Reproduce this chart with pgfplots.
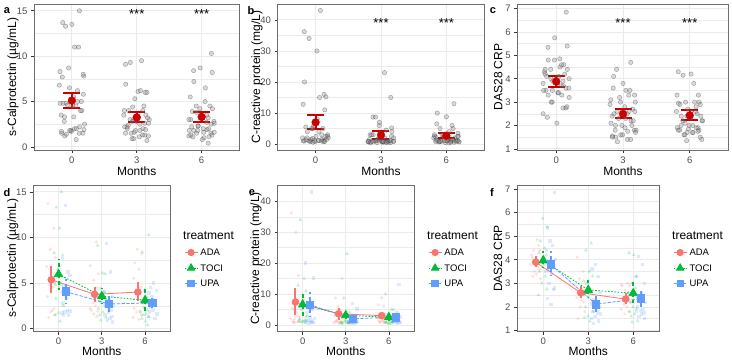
\documentclass[border=0pt]{standalone}
\usepackage{pgfplots}
\pgfplotsset{compat=1.18}
\usepackage{pgfplotstable}
\usepackage{fontspec}
\setmainfont{Liberation Sans}
\definecolor{cA}{HTML}{F8766D}
\definecolor{cT}{HTML}{00BA38}
\definecolor{cU}{HTML}{619CFF}
\definecolor{topred}{HTML}{CD0000}
\definecolor{gridc}{HTML}{EBEBEB}
\definecolor{borderc}{HTML}{6E6E6E}
\definecolor{tickc}{HTML}{333333}
\definecolor{tlabc}{HTML}{4D4D4D}

% ---------------- data: t = month, j = jitter offset, y = value ----------------
\pgfplotstableread[row sep=\\]{t j y\\
0 -0.42 13.7\\0 0.31 11.0\\0 -0.15 8.7\\0 0.55 7.8\\0 -0.58 6.8\\0 0.08 5.5\\0 0.44 5.0\\0 -0.27 4.8\\0 0.19 4.5\\0 -0.49 3.5\\0 0.36 2.2\\0 -0.05 1.8\\0 0.51 1.5\\0 -0.33 1.2\\0 0.12 2.0\\
3 0.22 9.5\\3 -0.51 6.9\\3 0.47 6.0\\3 -0.09 5.3\\3 0.33 4.5\\3 -0.38 4.0\\3 0.02 3.3\\3 0.58 3.0\\3 -0.21 2.8\\3 0.14 2.5\\3 -0.56 2.2\\3 0.41 1.9\\3 -0.12 1.6\\3 0.27 1.3\\3 -0.44 2.0\\
6 -0.07 8.7\\6 0.49 8.2\\6 -0.36 7.2\\6 0.17 6.5\\6 -0.53 5.5\\6 0.38 4.5\\6 -0.24 3.8\\6 0.05 3.2\\6 0.57 2.8\\6 -0.46 2.2\\6 0.25 1.9\\6 -0.18 1.8\\6 0.43 1.5\\6 -0.59 1.2\\6 0.11 1.0\\
}\calADA
\pgfplotstableread[row sep=\\]{t j y\\
0 0.35 15.0\\0 -0.29 13.3\\0 0.13 11.0\\0 -0.55 8.3\\0 0.52 8.0\\0 -0.11 6.5\\0 0.27 5.0\\0 -0.41 4.8\\0 0.04 4.5\\0 0.46 4.0\\0 -0.34 3.3\\0 0.59 2.5\\0 -0.02 1.7\\0 -0.47 1.5\\0 0.2 0.8\\
3 -0.52 9.1\\3 0.06 6.1\\3 0.39 6.0\\3 -0.19 4.4\\3 0.28 4.0\\3 -0.6 3.5\\3 0.5 3.2\\3 -0.31 3.0\\3 -0.03 2.8\\3 0.37 2.6\\3 -0.45 2.2\\3 0.15 1.8\\3 -0.26 1.5\\3 0.54 1.2\\3 -0.14 0.9\\
6 0.45 10.3\\6 -0.37 8.4\\6 -0.08 4.2\\6 0.24 3.5\\6 -0.5 3.0\\6 0.58 2.6\\6 -0.16 2.3\\6 0.32 2.0\\6 -0.57 1.8\\6 0.1 1.6\\6 -0.23 1.5\\6 0.48 1.3\\6 -0.4 1.1\\6 0.03 0.8\\6 0.3 0.4\\
}\calTOCI
\pgfplotstableread[row sep=\\]{t j y\\
0 0.0 13.5\\0 -0.44 7.7\\0 0.26 6.2\\0 0.53 5.8\\0 -0.2 4.6\\0 -0.54 4.8\\0 0.4 4.0\\0 0.09 3.3\\0 -0.35 2.8\\0 0.21 2.0\\0 0.56 1.9\\0 -0.1 1.8\\0 -0.48 1.7\\0 0.34 1.5\\0 -0.25 1.4\\
3 -0.3 9.3\\3 0.18 6.2\\3 -0.57 4.0\\3 0.42 3.5\\3 0.07 3.2\\3 -0.13 3.0\\3 0.55 2.6\\3 -0.39 2.4\\3 0.29 2.0\\3 -0.06 1.8\\3 -0.52 1.5\\3 0.37 1.3\\3 0.12 1.1\\3 -0.22 0.9\\3 0.47 0.7\\
6 0.16 5.0\\6 -0.25 4.5\\6 0.5 4.2\\6 -0.43 3.9\\6 -0.01 3.5\\6 0.3 3.2\\6 -0.59 3.0\\6 0.23 2.7\\6 0.44 2.5\\6 -0.17 2.3\\6 0.07 2.0\\6 -0.36 1.8\\6 0.58 1.6\\6 -0.5 1.3\\6 0.34 1.1\\
}\calUPA
\pgfplotstableread[row sep=\\]{t j y\\
0 -0.52 36.2\\0 0.06 30.0\\0 0.39 16.0\\0 -0.19 5.0\\0 0.28 3.0\\0 -0.6 2.0\\0 0.5 1.5\\0 -0.31 1.0\\0 -0.03 0.8\\0 0.37 1.2\\0 -0.45 5.5\\0 0.15 4.0\\0 -0.26 0.9\\0 0.54 2.5\\0 -0.14 1.8\\
3 0.45 15.0\\3 -0.37 8.7\\3 -0.08 6.0\\3 0.24 4.5\\3 -0.5 3.0\\3 0.58 2.0\\3 -0.16 1.5\\3 0.32 1.0\\3 -0.57 0.8\\3 0.1 0.6\\3 -0.23 1.2\\3 0.48 2.5\\3 -0.4 1.0\\3 0.03 0.7\\3 0.3 0.9\\
6 0.0 8.8\\6 -0.44 6.5\\6 0.26 6.0\\6 0.53 3.5\\6 -0.2 3.0\\6 -0.54 2.5\\6 0.4 2.0\\6 0.09 1.5\\6 -0.35 1.2\\6 0.21 1.0\\6 0.56 0.9\\6 -0.1 1.1\\6 -0.48 2.2\\6 0.34 1.0\\6 -0.25 0.8\\
}\crpADA
\pgfplotstableread[row sep=\\]{t j y\\
0 -0.3 34.0\\0 0.18 15.0\\0 -0.57 12.8\\0 0.42 11.0\\0 0.07 8.0\\0 -0.13 5.0\\0 0.55 3.0\\0 -0.39 2.0\\0 0.29 1.5\\0 -0.06 1.2\\0 -0.52 1.0\\0 0.37 0.8\\0 0.12 1.1\\0 -0.22 0.9\\0 0.47 2.5\\
3 0.16 23.0\\3 -0.25 8.7\\3 0.5 4.0\\3 -0.43 3.0\\3 -0.01 1.5\\3 0.3 1.0\\3 -0.59 0.8\\3 0.23 0.6\\3 0.44 0.5\\3 -0.17 1.2\\3 0.07 0.9\\3 -0.36 0.7\\3 0.58 1.0\\3 -0.5 0.4\\3 0.34 0.6\\
6 -0.42 10.0\\6 0.31 5.0\\6 -0.15 3.0\\6 0.55 2.5\\6 -0.58 2.0\\6 0.08 1.5\\6 0.44 1.2\\6 -0.27 1.0\\6 0.19 0.9\\6 -0.49 0.8\\6 0.36 0.6\\6 -0.05 0.5\\6 0.51 1.1\\6 -0.33 0.7\\6 0.12 0.4\\
}\crpTOCI
\pgfplotstableread[row sep=\\]{t j y\\
0 0.22 43.0\\0 -0.51 20.0\\0 0.47 15.2\\0 -0.09 6.0\\0 0.33 5.0\\0 -0.38 4.0\\0 0.02 2.5\\0 0.58 2.0\\0 -0.21 1.5\\0 0.14 1.2\\0 -0.56 1.0\\0 0.41 0.8\\0 -0.12 0.6\\0 0.27 1.0\\0 -0.44 1.4\\
3 -0.07 7.0\\3 0.49 5.2\\3 -0.36 3.0\\3 0.17 2.0\\3 -0.53 1.5\\3 0.38 1.2\\3 -0.24 1.0\\3 0.05 0.9\\3 0.57 0.8\\3 -0.46 0.7\\3 0.25 0.6\\3 -0.18 0.5\\3 0.43 1.1\\3 -0.59 0.9\\3 0.11 0.8\\
6 0.35 13.0\\6 -0.29 5.0\\6 0.13 4.0\\6 -0.55 3.0\\6 0.52 2.5\\6 -0.11 2.0\\6 0.27 1.5\\6 -0.41 1.2\\6 0.04 1.0\\6 0.46 0.9\\6 -0.34 0.8\\6 0.59 0.7\\6 -0.02 1.1\\6 -0.47 1.3\\6 0.2 0.6\\
}\crpUPA
\pgfplotstableread[row sep=\\]{t j y\\
0 0.16 4.85\\0 -0.25 4.4\\0 0.5 4.4\\0 -0.43 4.1\\0 -0.01 4.0\\0 0.3 3.9\\0 -0.59 3.8\\0 0.23 3.7\\0 0.44 3.6\\0 -0.17 3.5\\0 0.07 3.4\\0 -0.36 3.3\\0 0.58 3.2\\0 -0.5 4.2\\0 0.34 4.6\\
3 -0.42 4.1\\3 0.31 3.5\\3 -0.15 3.2\\3 0.55 3.0\\3 -0.58 2.9\\3 0.08 2.8\\3 0.44 2.7\\3 -0.27 2.6\\3 0.19 2.5\\3 -0.49 2.4\\3 0.36 2.2\\3 -0.05 2.0\\3 0.51 1.8\\3 -0.33 1.5\\3 0.12 2.3\\
6 0.22 3.0\\6 -0.51 2.95\\6 0.47 2.9\\6 -0.09 2.7\\6 0.33 2.5\\6 -0.38 2.4\\6 0.02 2.3\\6 0.58 2.2\\6 -0.21 2.1\\6 0.14 2.0\\6 -0.56 1.9\\6 0.41 1.8\\6 -0.12 1.7\\6 0.27 2.6\\6 -0.44 2.9\\
}\dasADA
\pgfplotstableread[row sep=\\]{t j y\\
0 -0.07 5.75\\0 0.49 5.4\\0 -0.36 4.8\\0 0.17 4.5\\0 -0.53 4.3\\0 0.38 4.2\\0 -0.24 4.0\\0 0.05 3.8\\0 0.57 3.6\\0 -0.46 3.5\\0 0.25 3.3\\0 -0.18 3.0\\0 0.43 2.75\\0 -0.59 2.5\\0 0.11 4.1\\
3 0.35 4.7\\3 -0.29 4.4\\3 0.13 3.5\\3 -0.55 3.1\\3 0.52 3.3\\3 -0.11 3.0\\3 0.27 2.6\\3 -0.41 2.5\\3 0.04 2.4\\3 0.46 2.2\\3 -0.34 2.0\\3 0.59 1.8\\3 -0.02 1.6\\3 -0.47 1.55\\3 0.2 1.4\\
6 -0.52 4.3\\6 0.06 4.2\\6 0.39 3.3\\6 -0.19 3.0\\6 0.28 2.8\\6 -0.6 2.6\\6 0.5 2.4\\6 -0.31 2.2\\6 -0.03 2.0\\6 0.37 1.9\\6 -0.45 1.8\\6 0.15 1.7\\6 -0.26 1.6\\6 0.54 1.4\\6 -0.14 1.35\\
}\dasTOCI
\pgfplotstableread[row sep=\\]{t j y\\
0 0.45 6.85\\0 -0.37 5.35\\0 -0.08 4.8\\0 0.24 4.6\\0 -0.5 4.4\\0 0.58 4.0\\0 -0.16 3.9\\0 0.32 3.7\\0 -0.57 3.5\\0 0.1 3.4\\0 -0.23 3.0\\0 0.48 2.8\\0 -0.4 2.35\\0 0.03 2.1\\0 0.3 2.75\\
3 0.0 3.8\\3 -0.44 3.6\\3 0.26 3.3\\3 0.53 2.6\\3 -0.2 2.3\\3 -0.54 2.1\\3 0.4 2.0\\3 0.09 1.9\\3 -0.35 1.8\\3 0.21 1.75\\3 0.56 1.7\\3 -0.1 1.6\\3 -0.48 1.5\\3 0.34 1.4\\3 -0.25 1.3\\
6 -0.3 4.15\\6 0.18 3.8\\6 -0.57 3.3\\6 0.42 3.0\\6 0.07 2.6\\6 -0.13 2.4\\6 0.55 2.2\\6 -0.39 2.0\\6 0.29 1.9\\6 -0.06 1.85\\6 -0.52 1.8\\6 0.37 1.75\\6 0.12 1.7\\6 -0.22 1.6\\6 0.47 1.5\\
}\dasUPA
% means with 95% CI: t m lo hi
\pgfplotstableread[row sep=\\]{t m lo hi\\0 5.1 4.3 5.95\\3 3.25 2.76 3.82\\6 3.3 2.78 3.82\\}\calMean
\pgfplotstableread[row sep=\\]{t m lo hi\\0 7.0 4.9 9.4\\3 2.9 1.8 4.1\\6 2.7 1.95 3.5\\}\crpMean
\pgfplotstableread[row sep=\\]{t m lo hi\\0 3.88 3.65 4.1\\3 2.5 2.3 2.7\\6 2.43 2.25 2.65\\}\dasMean
\pgfplotstableread[row sep=\\]{t m lo hi\\0 5.35 3.9 6.85\\3 3.75 2.9 4.6\\6 4.0 3.0 5.05\\}\calMA
\pgfplotstableread[row sep=\\]{t m lo hi\\0 5.95 4.2 7.6\\3 3.55 2.7 4.45\\6 3.1 1.9 4.3\\}\calMT
\pgfplotstableread[row sep=\\]{t m lo hi\\0 4.05 2.7 5.45\\3 2.7 1.75 3.6\\6 2.8 2.2 3.35\\}\calMU
\pgfplotstableread[row sep=\\]{t m lo hi\\0 7.4 3.1 11.8\\3 3.6 1.6 5.6\\6 3.0 2.0 3.8\\}\crpMA
\pgfplotstableread[row sep=\\]{t m lo hi\\0 6.6 2.5 10.4\\3 3.1 0.9 5.2\\6 2.5 1.4 3.6\\}\crpMT
\pgfplotstableread[row sep=\\]{t m lo hi\\0 6.5 2.5 10.7\\3 2.0 0.9 3.1\\6 2.5 1.4 3.4\\}\crpMU
\pgfplotstableread[row sep=\\]{t m lo hi\\0 3.9 3.68 4.15\\3 2.6 2.36 2.9\\6 2.33 2.11 2.57\\}\dasMA
\pgfplotstableread[row sep=\\]{t m lo hi\\0 3.97 3.63 4.36\\3 2.72 2.43 3.13\\6 2.58 2.15 3.06\\}\dasMT
\pgfplotstableread[row sep=\\]{t m lo hi\\0 3.8 3.32 4.36\\3 2.12 1.8 2.5\\6 2.35 1.91 2.78\\}\dasMU

\tikzset{star/.style={font=\fontsize{13}{13}\selectfont, yshift=-2.8pt}}
\pgfplotsset{
  gg/.style={
    scale only axis, anchor=south west,
    xmin=-1.75, xmax=7.75, xtick={0,3,6},
    xtick pos=left, ytick pos=left, tick align=outside,
    major tick length=3pt, minor tick length=0pt,
    minor y tick num=1,
    xmajorgrids, ymajorgrids, yminorgrids,
    major grid style={draw=gridc, line width=0.8pt},
    minor grid style={draw=gridc, line width=0.45pt},
    axis line style={draw=borderc, line width=0.8pt},
    tick style={draw=tickc, line width=0.6pt},
    tick label style={font=\fontsize{9.5}{11}\selectfont, text=tlabc},
    label style={font=\fontsize{12}{14}\selectfont},
    xlabel={Months},
    /pgf/number format/assume math mode=true,
    legend image code/.code={\draw[mark repeat=2,mark phase=2,##1] plot coordinates {(0pt,0pt) (6.5pt,0pt) (13pt,0pt)};},
  },
  ylx/.style={ylabel style={at={(axis description cs:0,0.5)}, anchor=center, yshift=#1}},
  xly/.style={xlabel style={at={(axis description cs:0.5,0)}, anchor=center, yshift=-#1}},
  legpos/.style={legend style={at={(axis description cs:#1,0.434)}, anchor=west, draw=none, fill=none, inner sep=0pt, row sep=5pt, column sep=1pt,
     font=\fontsize{9.5}{11}\selectfont, nodes={inner sep=1.5pt, text height=7pt, text depth=0.5pt}}, legend cell align=left},
  toppts/.style={only marks, mark=*, mark size=2.2pt, mark options={fill=black!45, draw=black!85, line width=0.4pt, fill opacity=0.33, draw opacity=0.42}},
  topmean/.style={only marks, mark=*, mark size=3.9pt, color=topred, mark options={fill=topred, draw=topred},
     error bars/.cd, y dir=both, y explicit, error mark=|, error bar style={line width=2pt, topred}, error mark options={line width=2pt, mark size=8.5pt, topred}},
  bpA/.style={forget plot, only marks, mark=*, mark size=1.7pt, mark options={fill=cA, draw opacity=0, fill opacity=0.22}},
  bpT/.style={forget plot, only marks, mark=triangle*, mark size=2.2pt, mark options={fill=cT, draw opacity=0, fill opacity=0.22}},
  bpU/.style={forget plot, only marks, mark=square*, mark size=1.7pt, mark options={fill=cU, draw opacity=0, fill opacity=0.22}},
  bmA/.style={forget plot, color=cA, line width=0.8pt, mark=*, mark size=3.4pt, mark options={solid, fill=cA},
     error bars/.cd, y dir=both, y explicit, error mark=none, error bar style={line width=2pt, solid}},
  bmT/.style={forget plot, color=cT, line width=0.8pt, dash pattern=on 1.6pt off 1.6pt, mark=triangle*, mark size=4.8pt, mark options={solid, fill=cT},
     error bars/.cd, y dir=both, y explicit, error mark=none, error bar style={line width=2pt, dash pattern=on 4pt off 3pt}},
  bmU/.style={forget plot, color=cU, line width=0.8pt, dash pattern=on 3.2pt off 1.6pt, mark=square*, mark size=3.8pt, mark options={solid, fill=cU},
     error bars/.cd, y dir=both, y explicit, error mark=none, error bar style={line width=2pt, dash pattern=on 8pt off 3pt}},
}
\newcommand{\legimgs}{%
  \addlegendimage{color=cA, line width=0.8pt, mark=*, mark size=3.2pt, mark options={solid}}\addlegendentry{ADA}
  \addlegendimage{color=cT, line width=0.8pt, dash pattern=on 1.6pt off 1.6pt, mark=triangle*, mark size=4.2pt, mark options={solid}}\addlegendentry{TOCI}
  \addlegendimage{color=cU, line width=0.8pt, dash pattern=on 3.2pt off 1.6pt, mark=square*, mark size=3.2pt, mark options={solid}}\addlegendentry{UPA}
}

\begin{document}
\begin{tikzpicture}
\useasboundingbox (0,0) rectangle (732pt,361pt);

% ---------------- a ----------------
\begin{axis}[gg, at={(34pt,211pt)}, width=205.5pt, height=146pt, ylx=21pt, xly=21pt,
  ymin=-0.35, ymax=15.75, ytick={0,5,10,15}, ylabel={s-Calprotectin (µg/mL)}]
\addplot[toppts] table[x expr=\thisrow{t}+\thisrow{j}, y=y]{\calADA};
\addplot[toppts] table[x expr=\thisrow{t}+\thisrow{j}, y=y]{\calTOCI};
\addplot[toppts] table[x expr=\thisrow{t}+\thisrow{j}, y=y]{\calUPA};
\addplot[topmean] table[x=t, y=m, y error plus expr=\thisrow{hi}-\thisrow{m}, y error minus expr=\thisrow{m}-\thisrow{lo}]{\calMean};
\node[star] at (axis cs:3,15) {***};
\node[star] at (axis cs:6,15) {***};
\end{axis}

% ---------------- b ----------------
\begin{axis}[gg, at={(277.5pt,211pt)}, width=207pt, height=146pt, ylx=20.5pt, xly=21pt,
  ymin=-1.9, ymax=45.1, ytick={0,10,20,30,40}, ylabel={C-reactive protein (mg/L)}]
\addplot[toppts] table[x expr=\thisrow{t}+\thisrow{j}, y=y]{\crpADA};
\addplot[toppts] table[x expr=\thisrow{t}+\thisrow{j}, y=y]{\crpTOCI};
\addplot[toppts] table[x expr=\thisrow{t}+\thisrow{j}, y=y]{\crpUPA};
\addplot[topmean] table[x=t, y=m, y error plus expr=\thisrow{hi}-\thisrow{m}, y error minus expr=\thisrow{m}-\thisrow{lo}]{\crpMean};
\node[star] at (axis cs:3,40) {***};
\node[star] at (axis cs:6,40) {***};
\end{axis}

% ---------------- c ----------------
\begin{axis}[gg, at={(517.3pt,211pt)}, width=211.4pt, height=146pt, ylx=19pt, xly=21pt,
  ymin=0.95, ymax=7.2, ytick={1,2,3,4,5,6,7}, ylabel={DAS28 CRP}]
\addplot[toppts] table[x expr=\thisrow{t}+\thisrow{j}, y=y]{\dasADA};
\addplot[toppts] table[x expr=\thisrow{t}+\thisrow{j}, y=y]{\dasTOCI};
\addplot[toppts] table[x expr=\thisrow{t}+\thisrow{j}, y=y]{\dasUPA};
\addplot[topmean] table[x=t, y=m, y error plus expr=\thisrow{hi}-\thisrow{m}, y error minus expr=\thisrow{m}-\thisrow{lo}]{\dasMean};
\node[star] at (axis cs:3,6.5) {***};
\node[star] at (axis cs:6,6.5) {***};
\end{axis}

% ---------------- d ----------------
\begin{axis}[gg, at={(33.3pt,29.3pt)}, width=137pt, height=146.7pt, legpos=1.10, ylx=20.5pt, xly=20pt,
  ymin=-0.35, ymax=15.75, ytick={0,5,10,15}, ylabel={s-Calprotectin (µg/mL)}]
\addplot[bpA] table[x expr=\thisrow{t}-0.5+0.55*\thisrow{j}, y=y]{\calADA};
\addplot[bpT] table[x expr=\thisrow{t}+0.55*\thisrow{j}, y=y]{\calTOCI};
\addplot[bpU] table[x expr=\thisrow{t}+0.5+0.55*\thisrow{j}, y=y]{\calUPA};
\addplot[bmA] table[x expr=\thisrow{t}-0.5, y=m, y error plus expr=\thisrow{hi}-\thisrow{m}, y error minus expr=\thisrow{m}-\thisrow{lo}]{\calMA};
\addplot[bmT] table[x expr=\thisrow{t}, y=m, y error plus expr=\thisrow{hi}-\thisrow{m}, y error minus expr=\thisrow{m}-\thisrow{lo}]{\calMT};
\addplot[bmU] table[x expr=\thisrow{t}+0.5, y=m, y error plus expr=\thisrow{hi}-\thisrow{m}, y error minus expr=\thisrow{m}-\thisrow{lo}]{\calMU};
\legimgs
\end{axis}

% ---------------- e ----------------
\begin{axis}[gg, at={(277.5pt,29.3pt)}, width=136.5pt, height=146.7pt, legpos=1.1026, ylx=21.5pt, xly=20pt,
  ymin=-2.2, ymax=45.3, ytick={0,10,20,30,40}, ylabel={C-reactive protein (mg/L)}]
\addplot[bpA] table[x expr=\thisrow{t}-0.5+0.55*\thisrow{j}, y=y]{\crpADA};
\addplot[bpT] table[x expr=\thisrow{t}+0.55*\thisrow{j}, y=y]{\crpTOCI};
\addplot[bpU] table[x expr=\thisrow{t}+0.5+0.55*\thisrow{j}, y=y]{\crpUPA};
\addplot[bmA] table[x expr=\thisrow{t}-0.5, y=m, y error plus expr=\thisrow{hi}-\thisrow{m}, y error minus expr=\thisrow{m}-\thisrow{lo}]{\crpMA};
\addplot[bmT] table[x expr=\thisrow{t}, y=m, y error plus expr=\thisrow{hi}-\thisrow{m}, y error minus expr=\thisrow{m}-\thisrow{lo}]{\crpMT};
\addplot[bmU] table[x expr=\thisrow{t}+0.5, y=m, y error plus expr=\thisrow{hi}-\thisrow{m}, y error minus expr=\thisrow{m}-\thisrow{lo}]{\crpMU};
\legimgs
\end{axis}

% ---------------- f ----------------
\begin{axis}[gg, at={(517pt,29.3pt)}, width=142.5pt, height=146.7pt, legpos=1.095, ylx=19pt, xly=20pt,
  ymin=0.95, ymax=7.17, ytick={1,2,3,4,5,6,7}, ylabel={DAS28 CRP}]
\addplot[bpA] table[x expr=\thisrow{t}-0.5+0.55*\thisrow{j}, y=y]{\dasADA};
\addplot[bpT] table[x expr=\thisrow{t}+0.55*\thisrow{j}, y=y]{\dasTOCI};
\addplot[bpU] table[x expr=\thisrow{t}+0.5+0.55*\thisrow{j}, y=y]{\dasUPA};
\addplot[bmA] table[x expr=\thisrow{t}-0.5, y=m, y error plus expr=\thisrow{hi}-\thisrow{m}, y error minus expr=\thisrow{m}-\thisrow{lo}]{\dasMA};
\addplot[bmT] table[x expr=\thisrow{t}, y=m, y error plus expr=\thisrow{hi}-\thisrow{m}, y error minus expr=\thisrow{m}-\thisrow{lo}]{\dasMT};
\addplot[bmU] table[x expr=\thisrow{t}+0.5, y=m, y error plus expr=\thisrow{hi}-\thisrow{m}, y error minus expr=\thisrow{m}-\thisrow{lo}]{\dasMU};
\legimgs
\end{axis}

% panel tags and legend titles
\node[font=\bfseries\fontsize{11}{11}\selectfont] at (7pt,350pt) {a};
\node[font=\bfseries\fontsize{11}{11}\selectfont] at (251pt,350pt) {b};
\node[font=\bfseries\fontsize{11}{11}\selectfont] at (493pt,350pt) {c};
\node[font=\bfseries\fontsize{11}{11}\selectfont] at (7pt,168pt) {d};
\node[font=\bfseries\fontsize{11}{11}\selectfont] at (252pt,168pt) {e};
\node[font=\bfseries\fontsize{11}{11}\selectfont] at (492pt,168pt) {f};
\node[anchor=west, inner sep=0pt, font=\fontsize{12}{14}\selectfont] at (183pt,125pt) {treatment};
\node[anchor=west, inner sep=0pt, font=\fontsize{12}{14}\selectfont] at (427pt,125pt) {treatment};
\node[anchor=west, inner sep=0pt, font=\fontsize{12}{14}\selectfont] at (672pt,125pt) {treatment};
\end{tikzpicture}
\end{document}
